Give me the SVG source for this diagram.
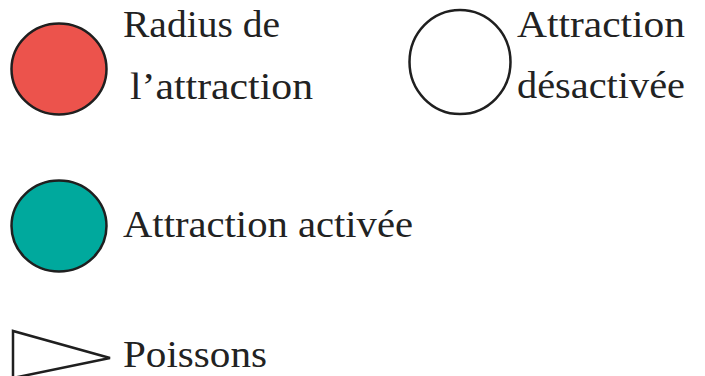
<svg xmlns="http://www.w3.org/2000/svg" width="705" height="376" viewBox="0 0 705 376">
  <style>
    .sym { stroke: #1f1f1f; stroke-width: 2.5; }
    .lbl { font-family: "Liberation Serif", "DejaVu Serif", serif; font-size: 37px; fill: #222; }
  </style>
  <rect width="705" height="376" fill="#fff"/>
  <!-- Legend: attraction radius -->
  <g id="radius">
    <ellipse class="sym" cx="59" cy="69" rx="47.5" ry="45.5" fill="#EC534C"/>
    <text class="lbl" x="123" y="37" textLength="157" lengthAdjust="spacingAndGlyphs">Radius de</text>
    <text class="lbl" x="130" y="99" textLength="183" lengthAdjust="spacingAndGlyphs">l’attraction</text>
  </g>
  <!-- Legend: attraction disabled -->
  <g id="disabled">
    <ellipse class="sym" cx="460" cy="62" rx="50.5" ry="52" fill="#fff"/>
    <text class="lbl" x="517" y="37" textLength="168" lengthAdjust="spacingAndGlyphs">Attraction</text>
    <text class="lbl" x="517" y="98" textLength="168" lengthAdjust="spacingAndGlyphs">désactivée</text>
  </g>
  <!-- Legend: attraction enabled -->
  <g id="enabled">
    <ellipse class="sym" cx="59" cy="226" rx="47.5" ry="45.5" fill="#00A99D"/>
    <text class="lbl" x="123" y="237" textLength="290" lengthAdjust="spacingAndGlyphs">Attraction activée</text>
  </g>
  <!-- Legend: fish -->
  <g id="fish">
    <polyline class="sym" points="13,378 13,331 110,358 13,378" fill="none" stroke-linejoin="miter"/>
    <text class="lbl" x="123" y="367" textLength="144" lengthAdjust="spacingAndGlyphs">Poissons</text>
  </g>
  <g id="connectors"/>
</svg>
